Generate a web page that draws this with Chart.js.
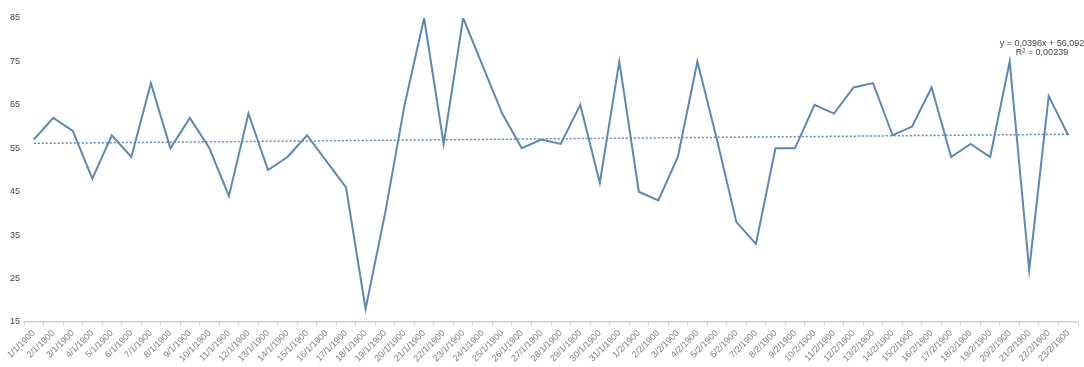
<!DOCTYPE html>
<html>
<head>
<meta charset="utf-8">
<script src="https://cdn.jsdelivr.net/npm/chart.js@4"></script>
<style>
  html, body { margin: 0; padding: 0; background: #fff; }
  #wrap { width: 1084px; height: 367px; }
</style>
</head>
<body>
<div id="wrap"><canvas id="lineChart"></canvas></div>
<script>
 // dates on the x axis (d/m/yyyy)
 const labels = [
     '1/1/1900', '2/1/1900', '3/1/1900', '4/1/1900', '5/1/1900', '6/1/1900', '7/1/1900', '8/1/1900',
     '9/1/1900', '10/1/1900', '11/1/1900', '12/1/1900', '13/1/1900', '14/1/1900', '15/1/1900', '16/1/1900',
     '17/1/1900', '18/1/1900', '19/1/1900', '20/1/1900', '21/1/1900', '22/1/1900', '23/1/1900', '24/1/1900',
     '25/1/1900', '26/1/1900', '27/1/1900', '28/1/1900', '29/1/1900', '30/1/1900', '31/1/1900', '1/2/1900',
     '2/2/1900', '3/2/1900', '4/2/1900', '5/2/1900', '6/2/1900', '7/2/1900', '8/2/1900', '9/2/1900',
     '10/2/1900', '11/2/1900', '12/2/1900', '13/2/1900', '14/2/1900', '15/2/1900', '16/2/1900', '17/2/1900',
     '18/2/1900', '19/2/1900', '20/2/1900', '21/2/1900', '22/2/1900', '23/2/1900'
 ];

 const values = [
     57, 62, 59, 48, 58, 53, 70, 55, 62, 55, 44, 63, 50, 53, 58, 52,
     46, 18, 40, 65, 85, 56, 85, 74, 63, 55, 57, 56, 65, 47, 75, 45,
     43, 53, 75, 57, 38, 33, 55, 55, 65, 63, 69, 70, 58, 60, 69, 53,
     56, 53, 75, 27, 67, 58
 ];

 // linear trendline as printed on the chart
 const trendSlope = 0.0396;
 const trendIntercept = 56.092;
 const trendText = ['y = 0,0396x + 56,092', 'R\u00B2 = 0,00239'];
 const trend = labels.map((l, i) => trendSlope * (i + 1) + trendIntercept);

 const yTicks = [15, 25, 35, 45, 55, 65, 75, 85];

 const lineColor = '#5b88b5';
 const fontFamily = '"Liberation Sans", Arial, sans-serif';

 // writes the trendline equation near the end of the series
 const trendLabel = {
     id: 'trendLabel',
     afterDraw(chart) {
         const ctx = chart.ctx;
         const area = chart.chartArea;
         ctx.save();
         ctx.font = '9px ' + fontFamily;
         ctx.fillStyle = '#444';
         ctx.textAlign = 'center';
         ctx.textBaseline = 'middle';
         const cx = area.right - 36;
         ctx.fillText(trendText[0], cx, 44);
         ctx.fillText(trendText[1], cx, 53);
         ctx.restore();
     }
 };

 const ctx = document.getElementById('lineChart').getContext('2d');
 const lineChart = new Chart(ctx, {
     type: 'line',
     data: {
         labels: labels,
         datasets: [{
             label: 'Values',
             data: values,
             borderColor: lineColor,
             borderWidth: 2,
             pointRadius: 0,
             tension: 0,
             order: 1
         }, {
             label: 'Trend',
             data: trend,
             borderColor: lineColor,
             borderWidth: 1.5,
             borderDash: [2, 2],
             pointRadius: 0,
             tension: 0,
             order: 2
         }]
     },
     options: {
         responsive: true,
         maintainAspectRatio: false,
         animation: false,
         layout: {
             padding: { top: 18, right: 6, left: 0, bottom: 0 }
         },
         plugins: {
             legend: { display: false },
             tooltip: { enabled: false }
         },
         scales: {
             x: {
                 offset: true,
                 afterFit(axis) { axis.height = 45; },
                 grid: {
                     offset: true,
                     drawOnChartArea: false,
                     drawTicks: true,
                     tickLength: 4,
                     color: '#cfcfcf'
                 },
                 border: { display: true, color: '#cfcfcf', width: 1.5 },
                 ticks: {
                     autoSkip: false,
                     maxRotation: 45,
                     minRotation: 45,
                     padding: 2,
                     color: '#808080',
                     font: { size: 9, family: fontFamily }
                 }
             },
             y: {
                 min: 15,
                 max: 85,
                 afterFit(axis) { axis.width = 24; },
                 afterBuildTicks(axis) {
                     axis.ticks = yTicks.map(v => ({ value: v }));
                 },
                 grid: { display: false, drawTicks: false },
                 border: { display: false },
                 ticks: {
                     padding: 4,
                     color: '#444',
                     font: { size: 9, family: fontFamily }
                 }
             }
         }
     },
     plugins: [trendLabel]
 });
</script>
</body>
</html>
